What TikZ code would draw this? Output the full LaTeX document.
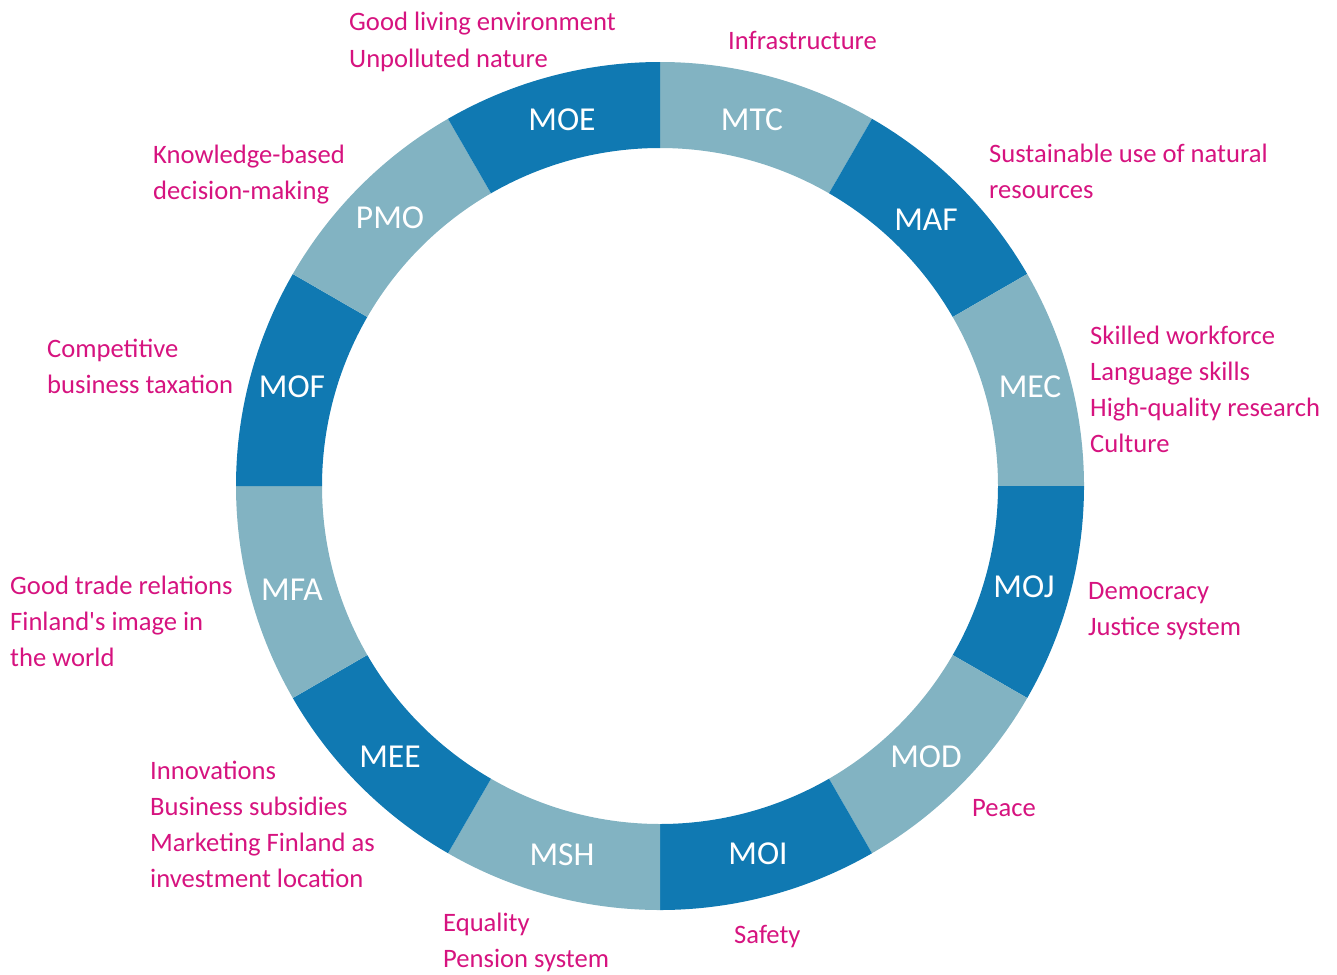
\documentclass[tikz,border=0pt]{standalone}
\usepackage{fontspec}
\setmainfont{Carlito}
\definecolor{ringdark}{HTML}{1079B2}
\definecolor{ringlight}{HTML}{82B3C2}
\definecolor{goaltext}{HTML}{D6137F}
\tikzset{
  seglabel/.style={text=white, inner sep=0pt, font=\fontsize{33.5}{36}\selectfont},
  % goal texts are placed by the baseline of their last line
  goal/.style={text=goaltext, inner sep=0pt, anchor=base west, align=left,
               font=\fontsize{26.6}{36}\selectfont},
}
\begin{document}
\begin{tikzpicture}[x=1pt,y=-1pt]
\useasboundingbox (0,0) rectangle (1337,974);
\coordinate (c) at (660,486);
% ring of twelve sectors, starting at the top and going clockwise
\foreach \k in {0,...,11}{
  \pgfmathsetmacro{\a}{-90+30*\k}
  \pgfmathsetmacro{\b}{\a+30}
  \pgfmathtruncatemacro{\odd}{mod(\k,2)}
  \ifnum\odd=0 \def\segcol{ringlight}\else\def\segcol{ringdark}\fi
  \fill[\segcol] ([shift={(c)}]\a:424) arc[start angle=\a, end angle=\b, radius=424]
     -- ([shift={(c)}]\b:338) arc[start angle=\b, end angle=\a, radius=338] -- cycle;
}
% sector labels
\node[seglabel] (mtc) at (752,120) {MTC};
\node[seglabel] (maf) at (926,220) {MAF};
\node[seglabel] (mec) at (1030,387) {MEC};
\node[seglabel] (moj) at (1024,587) {MOJ};
\node[seglabel] (mod) at (926,757) {MOD};
\node[seglabel] (moi) at (758,854) {MOI};
\node[seglabel] (msh) at (562,855) {MSH};
\node[seglabel] (mee) at (390,757) {MEE};
\node[seglabel] (mfa) at (292,590) {MFA};
\node[seglabel] (mof) at (292,387) {MOF};
\node[seglabel] (pmo) at (390,218) {PMO};
\node[seglabel] (moe) at (562,120) {MOE};
% goals of each ministry
\node[goal] (gmoe) at (349,67) {Good living environment\\Unpolluted nature};
\node[goal] (gmtc) at (728,49) {Infrastructure};
\node[goal] (gmaf) at (989,198) {Sustainable use of natural\\resources};
\node[goal] (gpmo) at (153,199) {Knowledge-based\\decision-making};
\node[goal] (gmec) at (1090,452) {Skilled workforce\\Language skills\\High-quality research\\Culture};
\node[goal] (gmof) at (47,393) {Competitive\\business taxation};
\node[goal] (gmoj) at (1088,635) {Democracy\\Justice system};
\node[goal] (gmfa) at (10,666) {Good trade relations\\Finland\textquotesingle s image in\\the world};
\node[goal] (gmod) at (972,816) {Peace};
\node[goal] (gmee) at (150,887) {Innovations\\Business subsidies\\Marketing Finland as\\investment location};
\node[goal] (gmoi) at (734,943) {Safety};
\node[goal] (gmsh) at (443,967) {Equality\\Pension system};
\end{tikzpicture}
\end{document}
